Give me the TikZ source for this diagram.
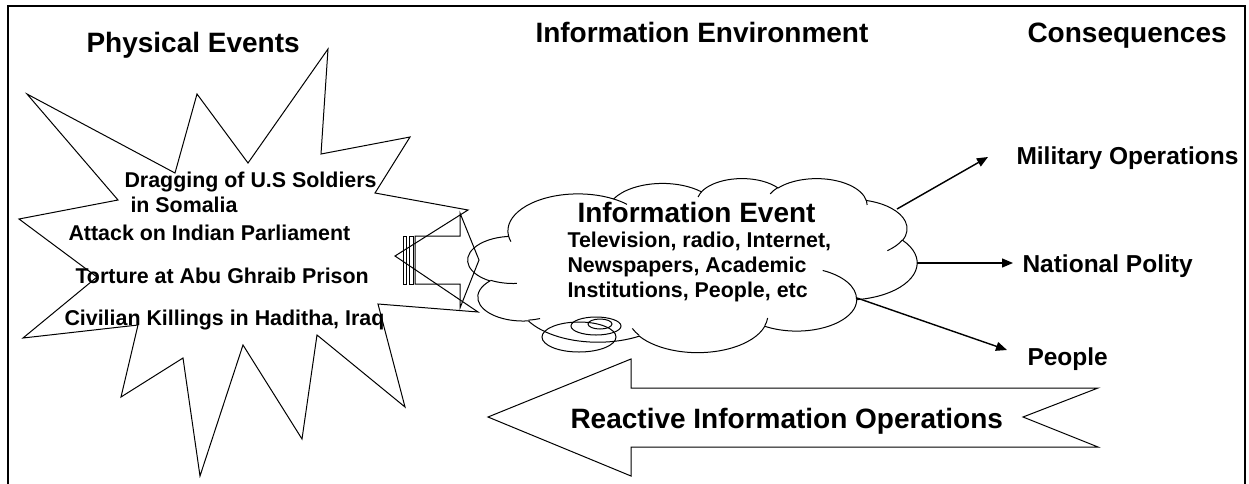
\documentclass[tikz,border=0pt]{standalone}
\usepackage{fontspec}
\setmainfont{Liberation Sans}
\usetikzlibrary{arrows.meta}

% one arc of the cloud outline, start and sweep given as seen angles
\newcommand\cloudarc[4]{arc [x radius = #1, y radius = #2, start angle = {atan2(#1*sin(#3), #2*cos(#3))}, delta angle = {mod(atan2(#1*sin(#3+#4), #2*cos(#3+#4)) - atan2(#1*sin(#3), #2*cos(#3)) + 720, 360)}]}

\tikzset{
	title/.style = {font = \fontsize{28}{30}\selectfont\bfseries, inner sep = 0, anchor = base west},
	event/.style = {font = \fontsize{21.4}{25}\selectfont\bfseries, inner sep = 0, anchor = base west},
	result/.style = {font = \fontsize{24.5}{28}\selectfont\bfseries, inner sep = 0, anchor = base west}
}

\begin{document}
\begin{tikzpicture}[x = 1pt, y = -1pt, > = {Triangle[length = 11pt, width = 9pt]}, line width = 1pt]

	\useasboundingbox (0, 0) rectangle (1249, 483);
	
	% Frame
	
	\draw [line width = 1.5pt] (8, 495) -- (8, 6) -- (1245, 6) -- (1245, 495);
	
	% Column titles
	
	\node [title] (phys) at (86, 52) {Physical Events};
	\node [title] (env) at (535, 42) {Information Environment};
	\node [title] (cons) at (1027, 42) {Consequences};
	
	% Explosion with the physical events
	
	\draw (27, 94) -- (175, 173) -- (197, 94) -- (248, 163) -- (328, 49) -- (321, 154) -- (410, 137) -- (375, 193) -- (468, 210) -- (395, 256) -- (478, 312) -- (378, 304) -- (405, 407) -- (317, 335) -- (302, 439) -- (243, 345) -- (200, 476) -- (183, 358) -- (121, 397) -- (138, 325) -- (23, 338) -- (97, 277) -- (19, 219) -- (118, 200) -- cycle;
	
	\node [event] (drag) at (124, 187) {Dragging of U.S Soldiers};
	\node [event] (soma) at (130, 212) {in Somalia};
	\node [event] (parl) at (68, 240) {Attack on Indian Parliament};
	\node [event] (abu) at (75, 283) {Torture at Abu Ghraib Prison};
	\node [event] (hadi) at (64, 325) {Civilian Killings in Haditha, Iraq};
	
	% Striped arrow into the cloud
	
	\draw (403, 236) rectangle (406, 284);
	\draw (409, 236) rectangle (413, 284);
	\draw (415, 236) -- (460, 236) -- (460, 213) -- (479, 260) -- (460, 308) -- (460, 284) -- (415, 284) -- cycle;
	
	% Cloud of the information event
	
	\begin{scope}[shift = {(468, 178)}, x = 4.49pt, y = -1.74pt]
		\draw (9.028, 33.264) \cloudarc{15.632}{21.273}{-190.4875}{123.7805} \cloudarc{12.345}{16.822}{-144.1024}{89.9452} \cloudarc{10.104}{13.762}{-145.8079}{99.7230} \cloudarc{11.243}{15.266}{-130.9861}{117.2417} \cloudarc{12.345}{16.836}{-78.7089}{109.0269} \cloudarc{15.683}{21.343}{-46.2673}{130.2690} \cloudarc{13.391}{18.211}{0.6250}{114.0333} \cloudarc{15.630}{21.331}{22.4516}{115.1726} \cloudarc{17.870}{24.405}{66.2426}{75.7110} \cloudarc{10.093}{13.699}{-274.9421}{146.7356} \cloudarc{10.058}{13.762}{-246.8285}{152.5189} -- cycle;
		\foreach \cx/\cy/\rx/\ry/\st/\sw in {10.863/60.595/10.058/13.762/86.7420/26.4295, 16.037/80.785/10.093/13.699/73.6105/11.4475, 38.144/90.486/15.630/21.331/137.6242/14.0811, 66.729/80.442/15.630/21.331/6.4533/15.9984, 79.002/53.134/13.391/18.211/-70.2924/70.9174, 96.755/35.542/12.345/16.836/30.3180/27.7515, 88.713/12.560/11.243/15.266/-13.7443/14.8589, 67.310/9.148/11.243/15.266/-149.1815/18.1954, 51.252/10.926/10.104/13.762/-163.4943/17.6864, 32.407/12.019/15.632/21.273/-66.7070/12.3194, 9.553/36.549/15.632/21.273/157.6544/11.8582}
		{
			\draw (\cx, \cy) \cloudarc{\rx}{\ry}{\st}{\sw};
		}
	\end{scope}
	
	\draw (579, 337) ellipse [x radius = 37, y radius = 15];
	\draw (596, 326) ellipse [x radius = 25, y radius = 9];
	\draw (600, 324) ellipse [x radius = 12, y radius = 5];
	
	\node [title] (ievent) at (577, 222) {Information Event};
	\node [event] (tv) at (567, 247) {Television, radio, Internet,};
	\node [event] (news) at (567, 272) {Newspapers, Academic};
	\node [event] (inst) at (567, 297) {Institutions, People, etc};
	
	% Consequences
	
	\node [result] (mil) at (1016, 164) {Military Operations};
	\node [result] (pol) at (1022, 272) {National Polity};
	\node [result] (peop) at (1027, 365) {People};
	
	\coordinate (cmil) at (897, 209);
	\coordinate (cpol) at (917, 263);
	\coordinate (cpeop) at (857, 298);
	\coordinate (tmil) at (988, 157);
	\coordinate (tpol) at (1013, 263);
	\coordinate (tpeop) at (1007, 350);
	
	\draw [->, line width = 1.4pt] (cmil) -- (tmil);
	\draw [->, line width = 1.4pt] (cpol) -- (tpol);
	\draw [->, line width = 1.4pt] (cpeop) -- (tpeop);
	
	% Reactive operations back to the events
	
	\draw (488, 417) -- (631, 359) -- (631, 388) -- (1098, 388) -- (1023, 417) -- (1098, 447) -- (631, 447) -- (631, 476) -- cycle;
	\node [title] (react) at (570, 428) {Reactive Information Operations};
	
\end{tikzpicture}
\end{document}
